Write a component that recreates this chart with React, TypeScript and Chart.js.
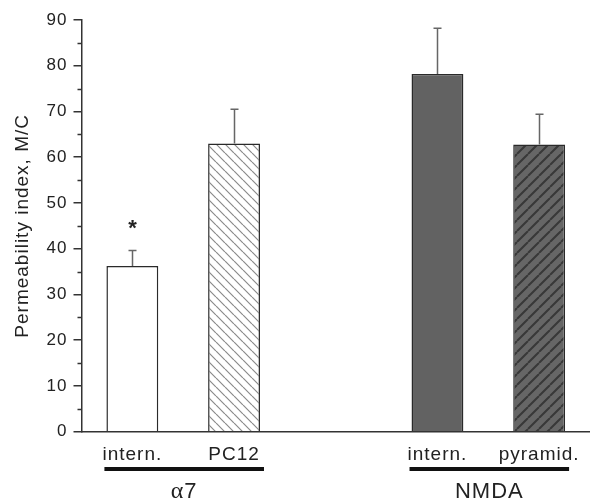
import React, { useEffect, useRef } from 'react';
import { Chart, registerables } from 'chart.js';

Chart.register(...registerables);

// ---- data ----
const categories = ['intern.', 'PC12', '', 'intern.', 'pyramid.'];
const means = [36.2, 63.0, null, 78.2, 62.8];
const errors = [3.4, 7.5, null, 10.0, 6.6];
const markers = ['*', '', '', '', ''];
const groupLabels = ['α7', 'NMDA'];
const groupFirst = [0, 3];
const groupLast = [1, 4];
const yMin = 0;
const yMax = 90;
const yStep = 10;
const yTitle = 'Permeability index, M/C';

const FONT = "'Liberation Sans', Arial, Helvetica, sans-serif";
const SERIF = "'Liberation Serif', 'Times New Roman', serif";
const TEXT = '#222';
const AXIS = '#333';

function hatch(bg: string, fg: string, size: number, lw: number, down: boolean) {
  const c = document.createElement('canvas');
  c.width = size;
  c.height = size;
  const g = c.getContext('2d')!;
  g.fillStyle = bg;
  g.fillRect(0, 0, size, size);
  g.strokeStyle = fg;
  g.lineWidth = lw;
  g.beginPath();
  for (let k = -1; k <= 1; k++) {
    if (down) {
      g.moveTo(k * size, 0);
      g.lineTo(k * size + size, size);
    } else {
      g.moveTo(k * size, size);
      g.lineTo(k * size + size, 0);
    }
  }
  g.stroke();
  return g.createPattern(c, 'repeat')!;
}

// draws a label, using a serif face for Greek letters
function drawMixed(ctx: CanvasRenderingContext2D, text: string, cx: number, by: number, size: number) {
  const parts = Array.from(text).map((ch) => ({
    ch,
    font: /[\u0370-\u03ff]/.test(ch) ? `${size + 2}px ${SERIF}` : `${size}px ${FONT}`,
  }));
  let total = 0;
  const widths = parts.map((p) => {
    ctx.font = p.font;
    const w = ctx.measureText(p.ch).width;
    total += w;
    return w;
  });
  let xx = cx - total / 2;
  ctx.textAlign = 'left';
  parts.forEach((p, i) => {
    ctx.font = p.font;
    ctx.fillText(p.ch, xx, by);
    xx += widths[i];
  });
}

const overlay = {
  id: 'overlay',
  beforeDraw(chart: any) {
    chart.ctx.letterSpacing = '1px';
  },
  afterDraw(chart: any) {
    const { ctx, scales } = chart;
    const x = scales.x;
    const y = scales.y;
    const left = chart.chartArea.left;
    ctx.save();
    // minor ticks
    ctx.strokeStyle = AXIS;
    ctx.lineWidth = 1.5;
    ctx.beginPath();
    for (let v = yMin + yStep / 2; v < yMax; v += yStep) {
      const py = Math.round(y.getPixelForValue(v)) + 0.5;
      ctx.moveTo(left - 4, py);
      ctx.lineTo(left, py);
    }
    ctx.stroke();

    // error bars
    const meta = chart.getDatasetMeta(0);
    ctx.strokeStyle = '#666';
    ctx.lineWidth = 1.5;
    means.forEach((m, i) => {
      if (m == null || errors[i] == null) return;
      const bar = meta.data[i];
      const px = Math.round(bar.x) + 0.5;
      const yTop = y.getPixelForValue(m);
      const yErr = y.getPixelForValue(m + (errors[i] as number));
      ctx.beginPath();
      ctx.moveTo(px, yTop);
      ctx.lineTo(px, yErr);
      ctx.moveTo(px - 4, yErr);
      ctx.lineTo(px + 4, yErr);
      ctx.stroke();
      if (markers[i]) {
        ctx.fillStyle = TEXT;
        ctx.font = `bold 22px ${FONT}`;
        ctx.letterSpacing = '0px';
        ctx.textAlign = 'center';
        ctx.textBaseline = 'alphabetic';
        ctx.fillText(markers[i], px, yErr - 16);
      }
    });

    // group underlines and labels
    const half = meta.data[0].width / 2;
    groupLabels.forEach((lab, gi) => {
      const x0 = x.getPixelForValue(groupFirst[gi]) - half - 2;
      const x1 = x.getPixelForValue(groupLast[gi]) + half + 4;
      ctx.fillStyle = '#111';
      ctx.fillRect(x0, 467, x1 - x0, 4);
      ctx.fillStyle = TEXT;
      ctx.letterSpacing = '1px';
      ctx.textBaseline = 'alphabetic';
      drawMixed(ctx, lab, (x0 + x1) / 2, 498, 22);
    });
    ctx.restore();
  },
};

export default function App() {
  const ref = useRef<HTMLCanvasElement>(null);
  useEffect(() => {
    const canvas = ref.current!;
    const fills = [
      '#ffffff',
      hatch('#ffffff', '#8a8a8a', 9, 1.2, true),
      '#ffffff',
      '#626262',
      hatch('#666666', '#383838', 11, 2, false),
    ];
    const chart = new Chart(canvas, {
      type: 'bar',
      data: {
        labels: categories,
        datasets: [
          {
            data: means as any,
            backgroundColor: fills as any,
            borderColor: '#2a2a2a',
            borderWidth: 1.5,
            barPercentage: 0.51,
            categoryPercentage: 1,
          },
        ],
      },
      options: {
        responsive: false,
        animation: false,
        events: [],
        layout: { padding: { top: 20, right: 0, bottom: 0, left: 0 } },
        plugins: { legend: { display: false }, tooltip: { enabled: false }, title: { display: false } },
        scales: {
          x: {
            grid: { display: false, drawTicks: false },
            border: { display: true, color: AXIS, width: 1.5 },
            ticks: { color: TEXT, font: { family: FONT, size: 19 }, padding: 12, maxRotation: 0, autoSkip: false },
            afterFit: (s: any) => {
              s.height = 70.3;
            },
          },
          y: {
            min: yMin,
            max: yMax,
            grid: { drawOnChartArea: false, drawTicks: true, tickLength: 8, color: AXIS, lineWidth: 1.5 },
            border: { display: true, color: AXIS, width: 1.5 },
            ticks: { stepSize: yStep, color: TEXT, font: { family: FONT, size: 17 }, padding: 6 },
            title: { display: true, text: yTitle, color: TEXT, font: { family: FONT, size: 19 }, padding: { top: 11, bottom: 0 } },
            afterFit: (s: any) => {
              s.width = 81.5;
            },
          },
        },
      },
      plugins: [overlay],
    });
    return () => chart.destroy();
  }, []);
  return (
    <canvas
      ref={ref}
      width={590}
      height={502}
      style={{ position: 'absolute', left: 0, top: 0, display: 'block', background: '#fff' }}
    />
  );
}
